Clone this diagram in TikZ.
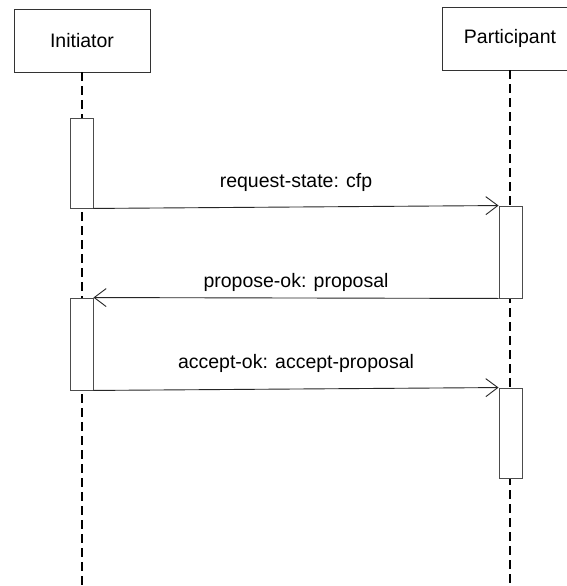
\documentclass[tikz,border=0pt]{standalone}
\usepackage{fontspec}
\setmainfont{Liberation Sans}
\usetikzlibrary{arrows.meta}
\begin{document}
\begin{tikzpicture}[x=1pt,y=-1pt,
  actor/.style={draw=black!80,line width=0.9pt,fill=white,minimum width=136pt,minimum height=63pt,inner sep=0pt,font=\fontsize{19.5}{23}\selectfont},
  activation/.style={draw=black!70,line width=0.9pt,fill=white,minimum width=23pt,inner sep=0pt},
  lifeline/.style={draw=black,line width=1.8pt,dash pattern=on 9pt off 5pt},
  msg/.style={draw=black!85,line width=0.9pt,-{Straight Barb[length=12pt,width=18pt,line width=0.9pt]}},
  lbl/.style={anchor=base,inner sep=0pt,font=\fontsize{19.5}{23}\selectfont}]
\useasboundingbox (0,0) rectangle (567,586);
\clip (0,0) rectangle (567,586);
\fill[white] (0,0) rectangle (567,586);
% actors
\node[actor] (init) at (82,40.5) {Initiator};
\node[actor] (part) at (510,38.5) {Participant};
\coordinate (initEnd) at (82,590);
\coordinate (partEnd) at (510,590);
% lifelines
\draw[lifeline] (init.south) -- (initEnd);
\draw[lifeline] (part.south) -- (partEnd);
% activations
\node[activation,minimum height=90pt] (ia1) at (81.5,163) {};
\node[activation,minimum height=92pt] (ia2) at (81.5,344) {};
\node[activation,minimum height=92pt] (pa1) at (510.5,252) {};
\node[activation,minimum height=90pt] (pa2) at (510.5,433) {};
% messages
\draw[msg] (ia1.south east) -- (pa1.north west);
\draw[msg] (pa1.south west) -- (ia2.north east);
\draw[msg] (ia2.south east) -- (pa2.north west);
% labels
\node[lbl] (l1) at (296,187) {request-state: cfp};
\node[lbl] (l2) at (296,287) {propose-ok: proposal};
\node[lbl] (l3) at (296,368) {accept-ok: accept-proposal};
\end{tikzpicture}
\end{document}
